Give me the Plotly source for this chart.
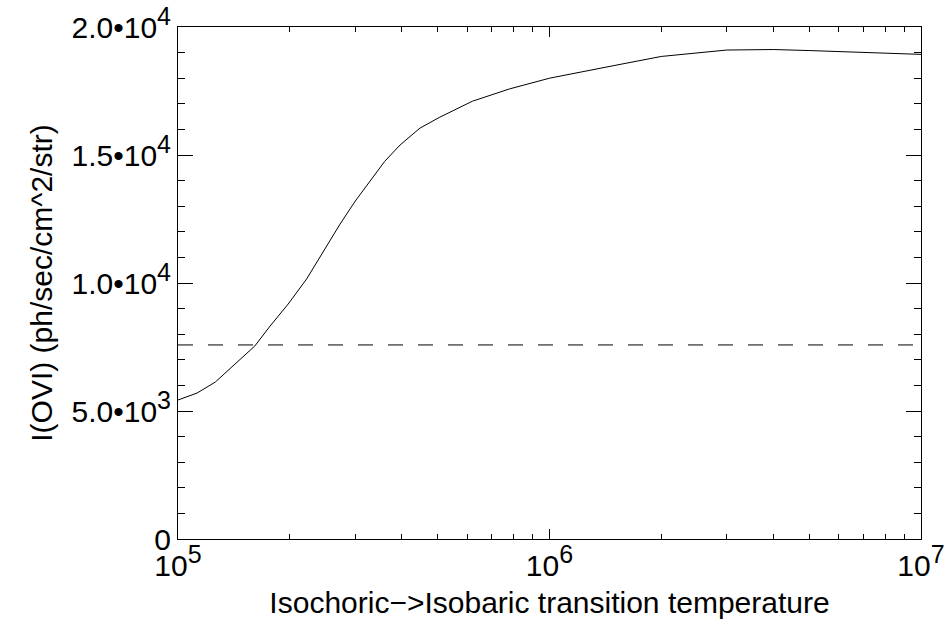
import plotly.graph_objects as go

# Transition temperature (K) and O VI intensity (ph/sec/cm^2/str)
temperature = [1.0e5, 1.125e5, 1.26e5, 1.41e5, 1.61e5, 1.77e5, 1.98e5, 2.22e5, 2.49e5,
               2.73e5, 3.0e5, 3.3e5, 3.6e5, 3.96e5, 4.48e5, 5.07e5, 6.2e5, 7.8e5,
               1.0e6, 1.5e6, 2.0e6, 3.0e6, 4.0e6, 5.0e6, 7.0e6, 1.0e7]
intensity = [5430, 5700, 6130, 6760, 7540, 8320, 9180, 10160, 11330,
             12300, 13200, 14000, 14750, 15390, 16050, 16480, 17100, 17580,
             18000, 18500, 18850, 19100, 19120, 19080, 19000, 18930]

reference_level = 7580
x_range = [1e5, 1e7]

SUP = '<sup><span style="font-size:25px">{}</span></sup>'
y_tickvals = [0, 5000, 10000, 15000, 20000]
y_ticktext = ["0", "5.0\u202210" + SUP.format(3), "1.0\u202210" + SUP.format(4),
              "1.5\u202210" + SUP.format(4), "2.0\u202210" + SUP.format(4)]
y_minor = [v for v in range(1000, 20000, 1000) if v % 5000 != 0]

x_tickvals = [1e5, 1e6, 1e7]
x_ticktext = ["10" + SUP.format(5), "10" + SUP.format(6), "10" + SUP.format(7)]
x_minor = [m * d for d in (1e5, 1e6) for m in range(2, 10)]

FONT = "Liberation Sans, Arial, sans-serif"

fig = go.Figure()
fig.add_trace(go.Scatter(x=temperature, y=intensity, mode="lines",
                         line=dict(color="black", width=1), showlegend=False))
fig.add_trace(go.Scatter(x=x_range, y=[reference_level, reference_level], mode="lines",
                         line=dict(color="black", width=1, dash="15px,15px"),
                         showlegend=False))

fig.update_layout(
    width=951, height=627,
    margin=dict(l=178, r=30, t=27, b=88),
    paper_bgcolor="white", plot_bgcolor="white",
    font=dict(family=FONT, size=30, color="black"),
    showlegend=False,
)
fig.update_xaxes(
    type="log", range=[5, 7],
    tickmode="array", tickvals=x_tickvals, ticktext=x_ticktext,
    ticks="inside", ticklen=10, tickwidth=1, tickcolor="black",
    minor=dict(tickmode="array", tickvals=x_minor, ticks="inside", ticklen=5,
               tickwidth=1, tickcolor="black", showgrid=False),
    showline=True, linecolor="black", linewidth=1, mirror="allticks",
    showgrid=False, zeroline=False,
    tickfont=dict(size=30),
    title=dict(text="Isochoric\u2212>Isobaric transition temperature",
               font=dict(size=30), standoff=10),
    automargin=False,
)
fig.update_yaxes(
    range=[0, 20000],
    tickmode="array", tickvals=y_tickvals, ticktext=y_ticktext,
    ticks="inside", ticklen=15, tickwidth=1, tickcolor="black",
    minor=dict(tickmode="array", tickvals=y_minor, ticks="inside", ticklen=7,
               tickwidth=1, tickcolor="black", showgrid=False),
    showline=True, linecolor="black", linewidth=1, mirror="allticks",
    showgrid=False, zeroline=False,
    tickfont=dict(size=30),
    title=dict(text="I(OVI) (ph/sec/cm^2/str)", font=dict(size=30), standoff=10),
    automargin=False,
)

fig.write_html("out.html")
